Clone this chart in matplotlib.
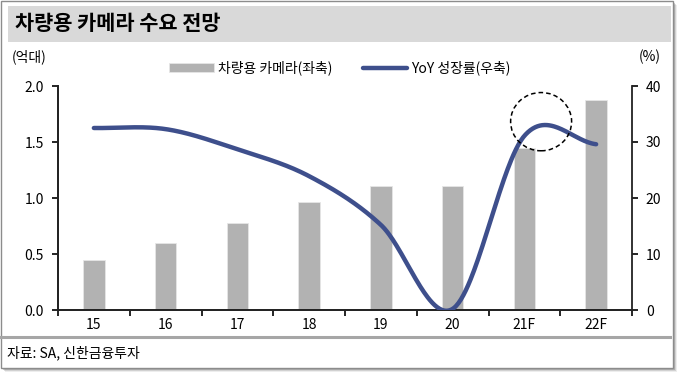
import numpy as np
import matplotlib
matplotlib.use('Agg')
import matplotlib.pyplot as plt
from matplotlib.patches import Rectangle, Ellipse

plt.rcParams['font.family'] = ['Noto Sans CJK KR', 'DejaVu Sans']

categories = ['15', '16', '17', '18', '19', '20', '21F', '22F']
cameras = [0.45, 0.60, 0.777, 0.964, 1.107, 1.107, 1.446, 1.875]   # 억대, left axis
yoy = [32.5, 32.3, 28.7, 23.9, 15.2, 0.2, 31.1, 29.6]              # %, right axis

title = '차량용 카메라 수요 전망'
source = '자료: SA, 신한금융투자'

bar_color = '#b2b2b2'
line_color = '#3e4f8c'


def smooth(y, n=60):
    # Excel-like smoothed line (Catmull-Rom / Hermite through the points)
    y = np.asarray(y, float)
    m = np.zeros_like(y)
    m[1:-1] = (y[2:] - y[:-2]) / 2
    m[0] = y[1] - y[0]
    m[-1] = y[-1] - y[-2]
    xs, ys = [], []
    for i in range(len(y) - 1):
        t = np.linspace(0, 1, n, endpoint=False)
        h00 = 2 * t**3 - 3 * t**2 + 1
        h10 = t**3 - 2 * t**2 + t
        h01 = -2 * t**3 + 3 * t**2
        h11 = t**3 - t**2
        xs.append(i + t)
        ys.append(h00 * y[i] + h10 * m[i] + h01 * y[i + 1] + h11 * m[i + 1])
    xs.append([len(y) - 1])
    ys.append([y[-1]])
    return np.concatenate(xs), np.concatenate(ys)


W, H = 684, 377
fig = plt.figure(figsize=(W / 100, H / 100), dpi=100)

# frame with soft shadow
for k, a in [(4, 0.10), (3, 0.18), (2, 0.28)]:
    fig.patches.append(Rectangle((1 / W + k / W, 0 + (9 - k) / H), 672 / W, 367 / H,
                                 transform=fig.transFigure, facecolor='#555555',
                                 edgecolor='none', alpha=a, zorder=-5))
fig.patches.append(Rectangle((1 / W, (H - 368) / H), 672 / W, 367 / H,
                             transform=fig.transFigure, facecolor='white',
                             edgecolor='#8c8c8c', linewidth=1, zorder=-4))
# title bar
fig.patches.append(Rectangle((8 / W, (H - 42) / H), 663 / W, 36 / H,
                             transform=fig.transFigure, facecolor='#d9d9d9',
                             edgecolor='none', zorder=-3))
fig.text(15 / W, 1 - 24 / H, title, fontsize=15, fontweight='bold',
         va='center', ha='left', zorder=3)
# bottom separator line and source
fig.add_artist(plt.Line2D([1 / W, 670 / W], [1 - 337 / H, 1 - 337 / H],
                          transform=fig.transFigure, color='#a6a6a6', linewidth=2.2))
fig.text(7 / W, 1 - 353 / H, source, fontsize=10, va='center', ha='left')

ax = fig.add_axes([58 / W, (H - 310) / H, 574 / W, 224 / H])
ax.patch.set_alpha(0)
ax2 = ax.twinx()

x = np.arange(len(categories))
ax.bar(x, cameras, width=0.3, color=bar_color, edgecolor='#e6e6e6', linewidth=0.6,
       label='차량용 카메라(좌축)', zorder=2)
ax.set_xlim(-0.5, len(categories) - 0.5)
ax.set_ylim(0, 2.0)
ax.set_yticks(np.arange(0, 2.01, 0.5))
ax.set_yticklabels([f'{v:.1f}' for v in np.arange(0, 2.01, 0.5)])

sx, sy = smooth(yoy)
ax2.plot(sx, sy, color=line_color, linewidth=3.2, solid_capstyle='round',
         label='YoY 성장률(우축)', zorder=3)
ax2.set_ylim(0, 40)
ax2.set_yticks([0, 10, 20, 30, 40])

# dashed circle around the 21F peak
seg = (sx > 6) & (sx < 7)
pk = np.argmax(np.where(seg, sy, -1))
ax2.add_patch(Ellipse((sx[pk] - 0.05, sy[pk] + 0.6), 0.85, 10.4, fill=False,
                      edgecolor='black', linestyle=(0, (3, 2)), linewidth=1.1,
                      zorder=4, clip_on=False))

ax.set_xticks(x)
ax.set_xticklabels(categories)
ax.set_xticks(np.arange(-0.5, len(categories)), minor=True)
ax.tick_params(axis='x', which='major', length=0, labelsize=10, pad=6)
ax.tick_params(axis='x', which='minor', length=4, width=1.2, direction='out')
ax.tick_params(axis='y', length=4, width=1.2, direction='out', labelsize=10, pad=6)
ax2.tick_params(axis='y', length=4, width=1.2, direction='out', labelsize=10, pad=6)

for a in (ax, ax2):
    a.spines['top'].set_visible(False)
    for s in ('left', 'right', 'bottom'):
        a.spines[s].set_linewidth(1.3)
        a.spines[s].set_color('#222222')
ax.spines['right'].set_visible(False)

fig.text(12 / W, 1 - 57 / H, '(억대)', fontsize=10, va='center', ha='left')
fig.text(650 / W, 1 - 57 / H, '(%)', fontsize=10, va='center', ha='center')

h1, l1 = ax.get_legend_handles_labels()
h2, l2 = ax2.get_legend_handles_labels()
fig.legend(h1 + h2, l1 + l2, loc='center', bbox_to_anchor=(340 / W, 1 - 68 / H),
           ncol=2, frameon=False, fontsize=10, handlelength=3.2, handleheight=0.7,
           columnspacing=2.2, handletextpad=0.3)

fig.savefig('out.png', dpi=100)
